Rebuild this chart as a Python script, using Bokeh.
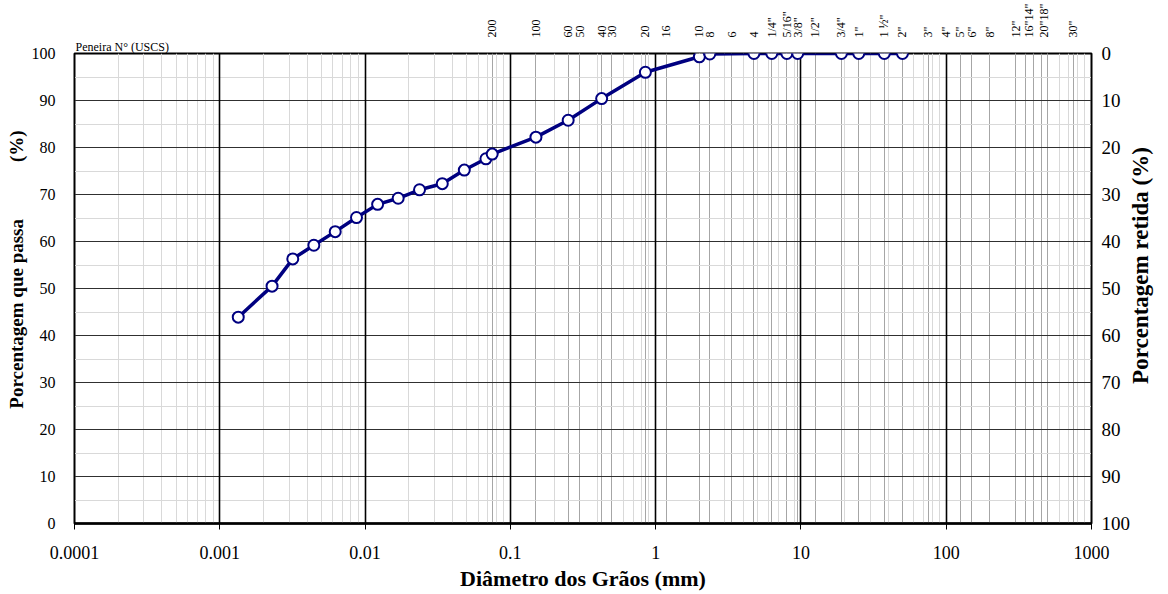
import math
from bokeh.plotting import figure
from bokeh.models import (Range1d, LinearAxis, LogAxis, FixedTicker, Grid, Title,
                          CustomJSTickFormatter, SingleIntervalTicker)
from bokeh.embed import file_html
from bokeh.resources import INLINE

# ---- data ----
diam_mm = [0.00134, 0.00229, 0.00318, 0.00444, 0.00623, 0.00873, 0.0122, 0.0169,
           0.0237, 0.0340, 0.0482, 0.0679, 0.075, 0.15, 0.25, 0.425, 0.85, 2.0,
           2.36, 4.75, 6.3, 8.0, 9.5, 19.0, 25.0, 37.5, 50.0]
passing_pct = [43.9, 50.5, 56.3, 59.2, 62.1, 65.1, 67.9, 69.2, 71.0, 72.3, 75.2,
               77.6, 78.6, 82.2, 85.8, 90.4, 96.0, 99.3, 99.9, 100, 100, 100,
               100, 100, 100, 100, 100]

sieve_labels = ["200", "100", "60", "50", "40", "30", "20", "16", "10", "8", "6", "4",
                "1/4\"", "5/16\"", "3/8\"", "1/2\"", "3/4\"", "1\"", "1 \u00bd\"", "2\"",
                "3\"", "4\"", "5\"", "6\"", "8\"", "12\"", "14\"", "16\"", "18\"", "20\"", "30\""]
sieve_mm = [0.075, 0.15, 0.25, 0.3, 0.425, 0.5, 0.85, 1.18, 2.0, 2.36, 3.35, 4.75,
            6.3, 8.0, 9.5, 12.5, 19.0, 25.0, 37.5, 50.0,
            75, 100, 125, 150, 200, 300, 350, 400, 450, 500, 750]
# pairs printed stacked in one column (lower label first)
stacked_pairs = [("16\"", "14\""), ("20\"", "18\"")]

x_tick_labels = ["0.0001", "0.001", "0.01", "0.1", "1", "10", "100", "1000"]
y_ticks = [0, 10, 20, 30, 40, 50, 60, 70, 80, 90, 100]

FONT = "Liberation Serif"
NAVY = "#000080"
EM = "\u2003"

p = figure(width=1168, height=594, x_axis_type="log",
           x_range=Range1d(1e-4, 1e3), y_range=Range1d(0, 100),
           output_backend="svg", toolbar_location=None,
           min_border_left=74, min_border_right=76, min_border_top=53,
           min_border_bottom=71, background_fill_color="white",
           border_fill_color="white")
p.outline_line_color = "black"
p.outline_line_width = 2

# ---- grids ----
decades = [10.0 ** e for e in range(-4, 4)]
minors = [k * 10.0 ** e for e in range(-4, 3) for k in range(2, 10)]
p.xgrid.visible = False
p.ygrid.visible = False

g_minor = Grid(dimension=0, ticker=FixedTicker(ticks=minors),
               grid_line_color="#d9d9d9", grid_line_width=1)
g_sieve = Grid(dimension=0, ticker=FixedTicker(ticks=sieve_mm),
               grid_line_color="#a6a6a6", grid_line_width=1)
g_dec = Grid(dimension=0, ticker=FixedTicker(ticks=decades),
             grid_line_color="black", grid_line_width=1.6)
g_y = Grid(dimension=1, ticker=SingleIntervalTicker(interval=10, num_minor_ticks=2),
           grid_line_color="#303030", grid_line_width=1.2,
           minor_grid_line_color="#d9d9d9", minor_grid_line_width=1)
for g in (g_minor, g_sieve, g_y, g_dec):
    p.add_layout(g, "center")

# ---- axes ----
xa = p.xaxis[0]
xa.ticker = FixedTicker(ticks=decades)
xa.formatter = CustomJSTickFormatter(args=dict(labels=x_tick_labels),
                                     code="return labels[Math.round(Math.log10(tick)) + 4];")
xa.axis_label = "Di\u00e2metro dos Gr\u00e3os (mm)"
xa.major_tick_out = 6
xa.major_tick_in = 0
xa.minor_tick_out = 0
xa.minor_tick_in = 0
xa.major_label_standoff = 16
xa.axis_label_standoff = 4
xa.axis_line_width = 2.5

ya = p.yaxis[0]
ya.ticker = FixedTicker(ticks=y_ticks)
ya.axis_label = EM + EM + "Porcentagem que passa" + EM + EM + EM + "(%)"
ya.major_tick_out = 0
ya.major_tick_in = 0
ya.minor_tick_out = 0
ya.minor_tick_in = 0
ya.major_label_standoff = 19
ya.axis_label_standoff = 2

p.extra_y_ranges = {"ret": Range1d(100, 0)}
ra = LinearAxis(y_range_name="ret", ticker=FixedTicker(ticks=y_ticks))
ra.major_tick_out = 0
ra.major_tick_in = 0
ra.minor_tick_out = 0
ra.minor_tick_in = 0
ra.major_label_standoff = 10
p.add_layout(ra, "right")

# right-hand title, drawn as a single rotated label reading upwards
right_title = "Porcentagem retida  (%)"
title_anchor = 70.3  # where the title starts, on the retained-% scale
rt = LinearAxis(y_range_name="ret", ticker=FixedTicker(ticks=[title_anchor]),
                formatter=CustomJSTickFormatter(args=dict(t=right_title),
                                                code="return t;"))
rt.major_label_orientation = math.pi / 2
rt.major_label_standoff = 7
rt.major_tick_out = 0
rt.major_tick_in = 0
rt.minor_tick_out = 0
rt.minor_tick_in = 0
rt.axis_line_color = None
rt.major_label_text_font = FONT
rt.major_label_text_font_size = "23px"
rt.major_label_text_font_style = "bold"
rt.major_label_text_color = "black"
p.add_layout(rt, "right")

for ax in (xa, ya, ra):
    ax.axis_line_color = "black"
    ax.major_tick_line_color = "black"
    ax.major_label_text_font = FONT
    ax.major_label_text_color = "black"
    ax.axis_label_text_font = FONT
    ax.axis_label_text_font_style = "bold"
    ax.axis_label_text_color = "black"
xa.major_label_text_font_size = "18px"
ya.major_label_text_font_size = "16px"
ra.major_label_text_font_size = "19px"
xa.axis_label_text_font_size = "22px"
ya.axis_label_text_font_size = "19px"

# ---- "Peneira" caption (inner, next to frame) ----
p.add_layout(Title(text="Peneira N\u00b0  (USCS)", align="left", offset=1,
                   standoff=0, text_font=FONT, text_font_size="12px",
                   text_font_style="normal", text_color="black"), "above")

# ---- sieve labels above the frame (top axis) ----
stack_upper = {up for _, up in stacked_pairs}
stack_lower = {lo: up for lo, up in stacked_pairs}
pos = dict(zip(sieve_labels, sieve_mm))
top_text, top_mm = [], []
for lab, mm in zip(sieve_labels, sieve_mm):
    if lab in stack_upper:
        continue
    if lab in stack_lower:
        up = stack_lower[lab]
        top_text.append(lab + up)
        top_mm.append(math.sqrt(mm * pos[up]))
    else:
        top_text.append(lab)
        top_mm.append(mm)

ta = LogAxis(ticker=FixedTicker(ticks=top_mm),
             formatter=CustomJSTickFormatter(
                 args=dict(labels=top_text, pos=top_mm),
                 code="""
let best = 0, bd = Infinity;
for (let i = 0; i < pos.length; i++) {
  const d = Math.abs(Math.log10(pos[i]) - Math.log10(tick));
  if (d < bd) { bd = d; best = i; }
}
return labels[best];"""))
ta.major_label_orientation = "vertical"
ta.major_label_standoff = 0
ta.major_tick_out = 0
ta.major_tick_in = 0
ta.minor_tick_out = 0
ta.minor_tick_in = 0
ta.axis_line_color = None
ta.major_label_text_font = FONT
ta.major_label_text_font_size = "12px"
ta.major_label_text_color = "black"
p.add_layout(ta, "above")

# ---- curve ----
p.line(diam_mm, passing_pct, line_color=NAVY, line_width=3.5)
p.scatter(diam_mm, passing_pct, size=11, fill_color="white",
          line_color=NAVY, line_width=2)

open("out.html", "w").write(file_html(p, INLINE))
